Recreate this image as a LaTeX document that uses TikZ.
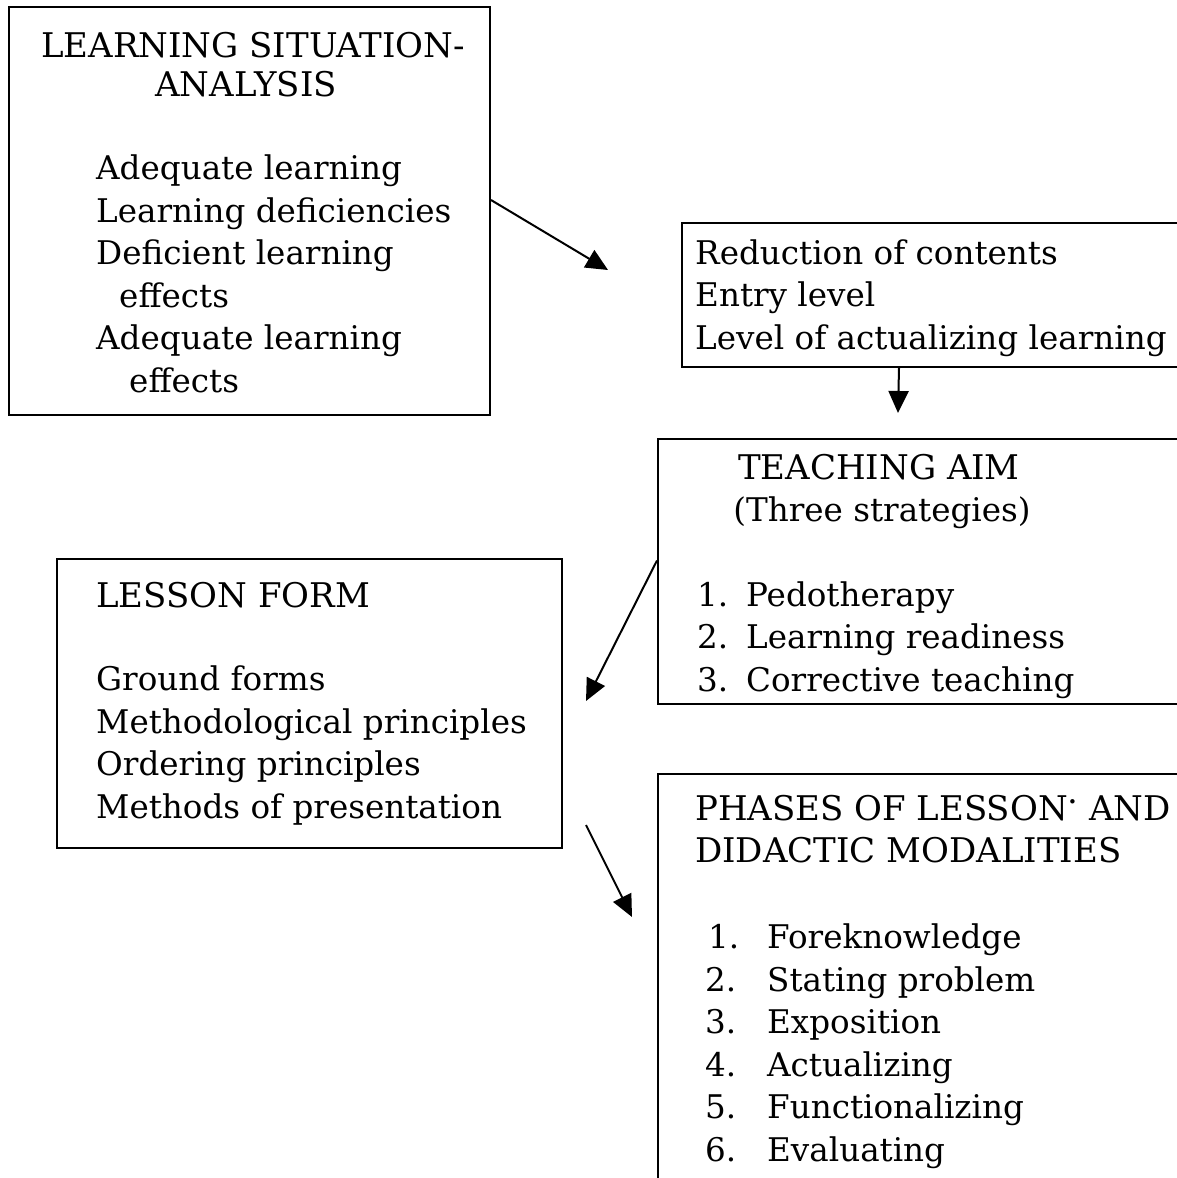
\documentclass[tikz,border=0pt]{standalone}
\usepackage{fontspec}
\setmainfont{DejaVu Serif}
\usetikzlibrary{arrows.meta}
\newcommand{\itemno}[2][49pt]{\makebox[#1][l]{#2}}
\tikzset{
box/.style={draw, line width=2pt, anchor=north west, inner sep=0pt}, % plain frame round each block
txt/.style={anchor=base west, align=left, inner sep=0pt, font=\fontsize{32.6}{42.5}\selectfont}, % base = last line
head/.style={anchor=base west, align=left, inner sep=0pt, font=\fontsize{34}{42}\selectfont},
flow/.style={-{Triangle[length=22pt, width=20pt]}, line width=2pt}, % filled heads
}

\begin{document}
\begin{tikzpicture}[x=1pt, y=-1pt]
    \useasboundingbox (0,0) rectangle (1177,1178);
    \clip (0,0) rectangle (1177,1178);

    % frames
    \node[box, minimum width=481pt, minimum height=408pt] (lsa) at (8,6) {};
    \node[box, minimum width=504pt, minimum height=144pt] (red) at (681,222) {};
    \node[box, minimum width=528pt, minimum height=265pt] (aim) at (657,438) {};
    \node[box, minimum width=505pt, minimum height=289pt] (form) at (56,558) {};
    \node[box, minimum width=528pt, minimum height=417pt] (phase) at (657,773) {};

    % texts
    \node[head] (lsahead) at (41,96) {LEARNING SITUATION-\\[-3pt]\hspace*{114pt}ANALYSIS};
    \node[txt] (lsalist) at (96,392) {Adequate learning\\Learning deficiencies\\Deficient learning\\\hspace*{23pt}effects\\Adequate learning\\\hspace*{33pt}effects};

    \node[txt] (redlist) at (695,349) {Reduction of contents\\Entry level\\Level of actualizing learning};

    \node[head, anchor=base] (aimhead) at (879,479) {TEACHING AIM};
    \node[txt, anchor=base] (aimsub) at (882,521) {(Three strategies)};
    \node[txt] (aimlist) at (697,691) {\itemno{1.}Pedotherapy\\\itemno{2.}Learning readiness\\\itemno{3.}Corrective teaching};

    \node[head] (formhead) at (96,607) {LESSON FORM};
    \node[txt] (formlist) at (96,818) {Ground forms\\Methodological principles\\Ordering principles\\Methods of presentation};

    \node[head] (phasehead) at (695,862) {PHASES OF LESSON\raisebox{0.5em}{.} AND\\DIDACTIC MODALITIES};
    \node[txt] (phaselist) at (705,1161) {\itemno[62pt]{\hspace*{3pt}1.}Foreknowledge\\\itemno[62pt]{2.}Stating problem\\\itemno[62pt]{3.}Exposition\\\itemno[62pt]{4.}Actualizing\\\itemno[62pt]{5.}Functionalizing\\\itemno[62pt]{6.}Evaluating};

    % free arrow ends
    \coordinate (t1) at (608,270);
    \coordinate (t2) at (898,413);
    \coordinate (t3) at (586,701);
    \coordinate (t4) at (632,917);

    \draw[flow] ([yshift=11pt]lsa.east) -- (t1);
    \draw[flow] ([xshift=-35pt]red.south) -- (t2);
    \draw[flow] ([yshift=11pt]aim.west) -- (t3);
    \draw[flow] ([shift={(23pt,24pt)}]form.south east) -- (t4);
\end{tikzpicture}
\end{document}
